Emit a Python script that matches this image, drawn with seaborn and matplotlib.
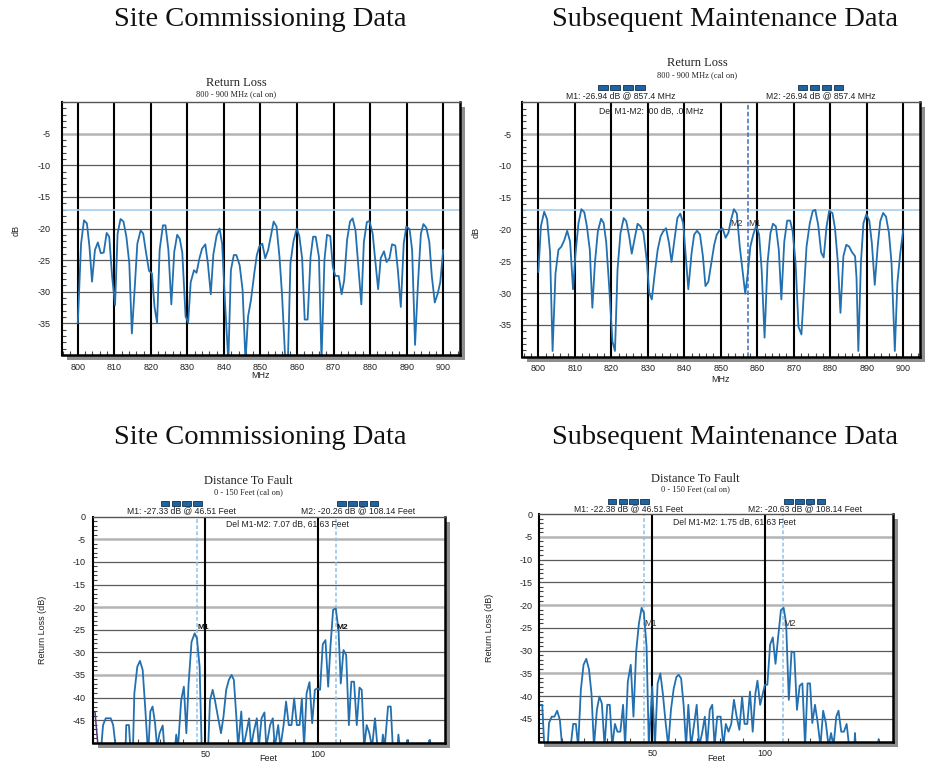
import numpy as np
import pandas as pd
import matplotlib
matplotlib.use("Agg")
import matplotlib.pyplot as plt
import seaborn as sns
from matplotlib.patches import Rectangle
from matplotlib.ticker import MultipleLocator

# ---------------- data ----------------
rl_freq_site = [
    800.0, 800.9, 801.7, 802.5, 803.2, 803.9, 804.7, 805.5, 806.3, 807.1,
    807.9, 808.6, 809.4, 810.2, 810.9, 811.7, 812.5, 813.3, 814.1, 814.8,
    815.6, 816.3, 817.2, 817.9, 818.7, 819.5, 820.3, 821.0, 821.7, 822.4,
    823.3, 824.0, 824.8, 825.6, 826.4, 827.2, 827.9, 828.6, 829.5, 830.2,
    830.9, 831.8, 832.5, 833.3, 834.0, 834.9, 835.6, 836.4, 837.1, 838.0,
    838.8, 839.5, 840.3, 841.2, 841.9, 842.7, 843.4, 844.3, 845.1, 845.9,
    846.6, 847.4, 848.3, 849.0, 849.7, 850.5, 851.3, 852.1, 852.8, 853.6,
    854.4, 855.2, 855.9, 856.8, 857.5, 858.2, 859.0, 859.9, 860.6, 861.4,
    862.1, 862.9, 863.7, 864.4, 865.1, 866.0, 866.7, 867.5, 868.2, 869.1,
    869.8, 870.5, 871.4, 872.2, 872.9, 873.7, 874.5, 875.2, 876.0, 876.7,
    877.6, 878.3, 879.1, 879.8, 880.7, 881.4, 882.2, 882.9, 883.8, 884.5,
    885.3, 886.0, 886.9, 887.6, 888.4, 889.2, 889.9, 890.8, 891.5, 892.3,
    893.1, 893.9, 894.6, 895.4, 896.2, 896.9, 897.7, 898.5, 899.2, 900.0]
rl_db_site = [
    -35.0, -22.4, -18.7, -19.2, -22.9, -28.4, -23.4, -22.2, -23.9, -23.8,
    -20.7, -21.3, -27.6, -32.1, -20.8, -18.5, -18.9, -21.3, -25.5, -36.6,
    -29.2, -22.4, -20.3, -20.8, -23.9, -26.7, -27.1, -32.4, -34.9, -23.4,
    -19.5, -19.5, -23.4, -32.0, -23.7, -21.0, -21.6, -23.8, -33.9, -34.9,
    -28.5, -26.6, -27.0, -24.7, -23.2, -22.5, -25.5, -30.4, -24.1, -21.1,
    -20.0, -22.4, -31.8, -41.0, -26.6, -24.2, -24.2, -25.8, -29.7, -41.0,
    -33.9, -31.3, -27.1, -24.2, -22.8, -22.4, -24.7, -23.4, -21.3, -18.9,
    -19.7, -24.5, -30.5, -41.0, -41.0, -25.5, -22.1, -20.0, -21.1, -24.7,
    -34.4, -34.4, -24.5, -21.3, -21.3, -24.5, -41.0, -25.0, -21.0, -21.2,
    -26.1, -27.5, -27.5, -30.4, -28.2, -21.8, -18.9, -18.4, -20.3, -25.5,
    -32.0, -22.1, -19.0, -18.8, -20.8, -25.0, -29.6, -24.7, -23.6, -25.3,
    -24.7, -22.5, -22.7, -26.6, -32.4, -22.4, -19.7, -20.1, -23.4, -38.4,
    -28.7, -20.8, -19.3, -19.9, -22.1, -27.6, -31.7, -30.3, -28.5, -23.4]

rl_freq_maint = [
    800.0, 800.7, 801.6, 802.4, 803.2, 803.9, 804.7, 805.5, 806.3, 807.1,
    807.9, 808.7, 809.5, 810.2, 811.0, 811.8, 812.6, 813.3, 814.1, 814.8,
    815.5, 816.3, 817.2, 817.9, 818.6, 819.4, 820.3, 821.0, 821.7, 822.5,
    823.4, 824.1, 824.9, 825.6, 826.5, 827.2, 828.0, 828.8, 829.7, 830.4,
    831.1, 831.9, 832.7, 833.5, 834.2, 835.0, 835.8, 836.5, 837.3, 838.1,
    838.9, 839.7, 840.4, 841.1, 842.0, 842.7, 843.5, 844.3, 845.1, 845.8,
    846.6, 847.4, 848.2, 848.9, 849.7, 850.5, 851.3, 852.1, 852.8, 853.6,
    854.4, 855.2, 855.9, 856.7, 857.4, 858.1, 858.9, 859.7, 860.5, 861.2,
    862.0, 862.8, 863.6, 864.3, 865.1, 865.9, 866.6, 867.4, 868.2, 869.0,
    869.7, 870.5, 871.3, 872.1, 872.8, 873.5, 874.4, 875.2, 875.9, 876.7,
    877.5, 878.2, 879.0, 879.7, 880.6, 881.3, 882.1, 882.8, 883.6, 884.4,
    885.2, 885.9, 886.8, 887.2, 887.7, 888.4, 889.1, 889.9, 890.7, 891.4,
    892.2, 893.0, 893.7, 894.5, 895.3, 896.1, 896.8, 897.7, 898.4, 899.2,
    900.0]
rl_db_maint = [
    -26.7, -19.5, -17.2, -18.4, -23.5, -39.1, -26.9, -23.2, -22.7, -21.7,
    -20.2, -21.9, -29.4, -23.7, -19.0, -16.8, -17.3, -19.5, -23.2, -32.3,
    -25.3, -20.3, -18.3, -19.0, -22.0, -28.9, -37.6, -39.1, -26.3, -20.6,
    -18.2, -18.7, -21.1, -23.8, -21.1, -19.1, -19.5, -20.5, -24.8, -30.0,
    -31.0, -26.9, -23.2, -21.1, -20.3, -19.8, -22.1, -25.1, -21.6, -18.2,
    -17.5, -19.0, -24.2, -29.4, -23.7, -20.8, -20.2, -20.8, -24.2, -28.9,
    -28.2, -25.3, -22.4, -20.8, -20.1, -19.8, -21.3, -20.5, -18.5, -16.8,
    -17.5, -22.7, -26.1, -30.1, -26.9, -22.7, -20.8, -19.4, -20.8, -26.3,
    -37.0, -25.3, -20.6, -19.1, -19.5, -23.2, -31.0, -21.9, -18.6, -18.6,
    -20.3, -25.3, -35.3, -36.5, -29.5, -22.7, -19.0, -17.1, -16.9, -19.3,
    -23.6, -24.4, -19.5, -17.1, -17.4, -19.8, -25.3, -33.1, -24.2, -22.4,
    -22.7, -23.5, -24.2, -27.6, -39.1, -25.3, -19.0, -17.6, -18.6, -22.1,
    -28.7, -22.7, -18.7, -17.4, -18.0, -20.6, -25.3, -39.1, -28.4, -23.7,
    -20.1]

dtf_ft_site = [
    3.8, 4.6, 5.8, 8.0, 9.1, 10.2, 14.6, 14.9, 16.1, 16.7,
    17.9, 18.5, 19.8, 21.0, 22.2, 23.4, 24.4, 24.8, 25.6, 26.6,
    27.7, 28.6, 29.7, 31.1, 31.8, 36.6, 37.1, 37.9, 39.3, 40.5,
    41.6, 42.6, 43.9, 45.3, 46.3, 47.5, 48.4, 51.3, 52.1, 53.3,
    54.3, 55.6, 57.0, 58.1, 59.3, 60.5, 61.7, 62.7, 63.8, 64.6,
    66.0, 66.9, 68.2, 69.5, 70.4, 71.4, 72.9, 73.8, 75.0, 76.3,
    77.1, 78.8, 80.0, 80.9, 82.4, 83.4, 84.8, 85.9, 87.1, 88.3,
    89.5, 90.7, 91.9, 92.9, 93.9, 95.0, 96.3, 97.5, 98.7, 99.6,
    101.0, 102.2, 103.4, 104.6, 105.6, 106.8, 108.0, 109.2, 110.2, 111.4,
    112.6, 113.8, 114.9, 116.1, 117.3, 118.5, 119.5, 120.6, 121.7, 122.9,
    124.1, 125.4, 126.5, 128.4, 128.9, 129.7, 131.2, 132.4, 133.3, 135.4,
    135.8, 136.4, 139.5, 139.8, 140.1, 149.3, 149.6, 149.9]
dtf_db_site = [
    -51.0, -46.1, -44.6, -44.6, -46.1, -51.0, -51.0, -46.1, -46.1, -51.0,
    -51.0, -39.1, -33.2, -31.9, -33.9, -42.8, -51.0, -51.0, -43.1, -42.0,
    -45.7, -51.0, -47.9, -46.2, -51.0, -51.0, -48.2, -51.0, -40.6, -37.6,
    -47.9, -36.9, -27.7, -25.8, -26.9, -33.2, -51.0, -51.0, -40.6, -38.3,
    -40.6, -44.2, -47.9, -44.2, -38.3, -36.1, -35.0, -36.1, -44.2, -51.0,
    -43.1, -51.0, -47.9, -44.6, -51.0, -47.9, -44.6, -51.0, -44.6, -43.3,
    -51.0, -46.1, -44.6, -51.0, -46.1, -51.0, -46.1, -40.9, -46.1, -46.1,
    -40.2, -46.1, -46.1, -40.2, -51.0, -39.1, -36.6, -45.7, -38.3, -38.0,
    -38.3, -28.2, -27.3, -37.6, -28.8, -20.6, -20.3, -25.1, -36.9, -29.5,
    -30.6, -46.1, -36.5, -36.5, -46.1, -37.8, -38.3, -51.0, -46.1, -47.9,
    -51.0, -44.6, -51.0, -51.0, -48.2, -51.0, -42.0, -42.0, -51.0, -51.0,
    -48.2, -51.0, -51.0, -49.4, -51.0, -51.0, -49.4, -51.0]
# short dark segments at the start of the site trace
dtf_ft_site_start = [1.0, 2.4]
dtf_db_site_start = [-43.1, -51.0]

dtf_ft_maint = [
    0.7, 1.3, 2.2, 3.7, 4.3, 5.5, 6.7, 7.9, 9.1, 10.1,
    13.9, 15.0, 16.2, 17.2, 18.4, 19.6, 20.8, 22.0, 23.1, 24.2,
    25.5, 26.6, 27.7, 28.9, 30.1, 31.2, 32.3, 33.5, 34.6, 35.9,
    37.1, 38.0, 39.2, 40.5, 41.7, 42.9, 44.1, 45.3, 46.3, 47.5,
    48.5, 50.0, 51.2, 52.4, 53.6, 54.7, 55.9, 57.1, 58.3, 59.5,
    60.7, 61.7, 62.8, 63.9, 65.0, 66.0, 67.2, 68.4, 69.7, 70.8,
    72.1, 73.3, 74.3, 75.5, 76.6, 77.6, 78.8, 80.3, 81.5, 82.6,
    83.8, 85.0, 86.2, 87.4, 88.6, 89.8, 90.9, 92.1, 93.3, 94.5,
    95.7, 96.6, 97.8, 99.0, 99.9, 101.0, 102.2, 103.4, 104.6, 105.8,
    107.0, 108.2, 109.3, 110.5, 111.7, 112.9, 114.1, 115.3, 116.5, 117.7,
    118.8, 119.9, 120.9, 122.1, 123.3, 124.5, 125.7, 126.9, 128.1, 129.2,
    130.3, 131.5, 132.5, 133.7, 134.9, 136.1, 137.2, 139.5, 139.8, 140.1,
    150.0, 150.3, 150.6]
dtf_db_maint = [
    -41.9, -41.9, -51.0, -51.0, -45.9, -44.5, -44.5, -43.2, -45.2, -51.0,
    -51.0, -46.1, -46.1, -51.0, -38.6, -33.1, -31.8, -34.1, -39.4, -51.0,
    -43.0, -40.1, -41.6, -51.0, -41.9, -41.9, -51.0, -46.1, -47.8, -47.8,
    -41.9, -51.0, -36.8, -33.1, -44.5, -30.2, -24.1, -20.6, -21.7, -29.1,
    -51.0, -37.9, -51.0, -37.2, -35.0, -39.4, -45.6, -51.0, -43.0, -38.4,
    -35.8, -35.3, -36.1, -41.9, -51.0, -41.9, -51.0, -46.7, -41.9, -51.0,
    -48.1, -44.5, -51.0, -43.0, -41.9, -51.0, -44.5, -44.5, -51.0, -46.1,
    -47.8, -46.1, -40.8, -44.5, -47.4, -40.1, -46.1, -46.1, -39.0, -47.8,
    -39.4, -36.6, -41.9, -39.4, -37.5, -37.5, -28.7, -27.1, -32.9, -26.9,
    -21.1, -20.6, -24.0, -40.8, -30.2, -30.4, -43.0, -37.7, -37.2, -51.0,
    -37.2, -37.2, -45.9, -41.9, -45.9, -51.0, -43.2, -45.9, -51.0, -48.1,
    -51.0, -44.5, -43.2, -47.8, -47.8, -46.1, -51.0, -51.0, -48.1, -51.0,
    -51.0, -49.5, -51.0]

rl_xticks = [800, 810, 820, 830, 840, 850, 860, 870, 880, 890, 900]
rl_yticks = [-5, -10, -15, -20, -25, -30, -35]
dtf_xticks = [50, 100]
dtf_yticks = [0, -5, -10, -15, -20, -25, -30, -35, -40, -45]
rl_limit = -17
rl_marker = 857.4
dtf_markers = [46.51, 108.14]

panel_titles = ["Site Commissioning Data", "Subsequent Maintenance Data"]
rl_texts = ["M1: -26.94 dB @ 857.4 MHz", "M2: -26.94 dB @ 857.4 MHz",
            "Del M1-M2: .00 dB, .0 MHz"]
dtf_site_texts = ["M1: -27.33 dB @ 46.51 Feet", "M2: -20.26 dB @ 108.14 Feet",
                  "Del M1-M2: 7.07 dB, 61.63 Feet"]
dtf_maint_texts = ["M1: -22.38 dB @ 46.51 Feet", "M2: -20.63 dB @ 108.14 Feet",
                   "Del M1-M2: 1.75 dB, 61.63 Feet"]

# ---------------- style ----------------
sns.set_style("white")
plt.rcParams["font.family"] = ["Liberation Sans", "DejaVu Sans"]
plt.rcParams["axes.unicode_minus"] = False
SERIF = ["Liberation Serif", "DejaVu Serif"]
BLUE = "#2270b0"
TXT = "#222222"

W, H = 932, 764
fig = plt.figure(figsize=(W / 100, H / 100), dpi=100)
fig.patch.set_facecolor("white")


def fx(px):
    return px / W


def fy(py):
    return 1 - py / H


def rect(l, t, r, b):
    return [l / W, 1 - b / H, (r - l) / W, (b - t) / H]


def shadow(l, t, r, b, dx, dy):
    fig.add_artist(Rectangle((fx(l + dx), fy(b + dy)), (r - l) / W, (b - t) / H,
                             transform=fig.transFigure, facecolor="#8e8e8e",
                             edgecolor="none", zorder=-1))


def blocks(x0, x1, yc):
    gap = 2.4
    w = (x1 - x0 - 3 * gap) / 4
    for i in range(4):
        l = x0 + i * (w + gap)
        fig.add_artist(Rectangle((fx(l), fy(yc + 2.3)), w / W, 4.6 / H,
                                 transform=fig.transFigure, facecolor="#1e64a0",
                                 edgecolor="#10304f", lw=0.6, zorder=5))


def style_axes(ax, xlim, ylim, xticks, yticks, xminor, ypad, light=()):
    ax.set_xlim(*xlim)
    ax.set_ylim(*ylim)
    ax.set_xticks(xticks)
    ax.set_yticks(yticks)
    ax.xaxis.set_minor_locator(MultipleLocator(xminor))
    ax.yaxis.set_minor_locator(MultipleLocator(1))
    ax.tick_params(which="major", length=0, labelsize=6.5, labelcolor=TXT)
    ax.tick_params(axis="y", which="major", pad=ypad)
    ax.tick_params(axis="x", which="major", pad=5.5)
    ax.tick_params(which="minor", direction="in", length=3.2, width=0.8,
                   color="#444444", bottom=True, left=True)
    ax.set_xlabel("")
    ax.set_ylabel("")
    for y in yticks:
        if y in light:
            ax.axhline(y, color="#b4b4b4", lw=1.8, zorder=1)
        elif y != 0:
            ax.axhline(y, color="#5a5a5a", lw=0.9, zorder=1)
    for x in xticks:
        ax.axvline(x, color="black", lw=1.5, zorder=1.2)
    ax.spines["left"].set_color("black")
    ax.spines["left"].set_linewidth(1.5)
    ax.spines["top"].set_color("#555555")
    ax.spines["top"].set_linewidth(1.0)
    ax.spines["right"].set_color("black")
    ax.spines["right"].set_linewidth(1.8)
    ax.spines["bottom"].set_color("black")
    ax.spines["bottom"].set_linewidth(1.8)
    for s in ax.spines.values():
        s.set_zorder(4)


# ---------------- axes ----------------
boxes = {
    "tl": (61.7, 102, 460, 355),
    "tr": (522.3, 102.3, 920, 356.7),
    "bl": (92.7, 516.7, 445, 742.7),
    "br": (539.3, 514, 892.7, 741.7),
}
axes = {}
for k, b in boxes.items():
    shadow(*b, 5, 5)
    axes[k] = fig.add_axes(rect(*b))

# Return loss panels
for key, fr, db in [("tl", rl_freq_site, rl_db_site), ("tr", rl_freq_maint, rl_db_maint)]:
    ax = axes[key]
    df = pd.DataFrame({"MHz": fr, "dB": db})
    sns.lineplot(data=df, x="MHz", y="dB", ax=ax, color=BLUE, lw=1.3,
                 estimator=None, sort=False, legend=False, zorder=3)
    ax.axhline(rl_limit, color="#a9cde9", lw=1.2, zorder=1.5)
    style_axes(ax, (795.6, 904.6), (-40, 0), rl_xticks, rl_yticks, 2, 8.0, light=(-5,))

axes["tr"].axvline(rl_marker, color="#3c6cc0", lw=1.1, ls=(0, (3, 1.5)), zorder=2)
axes["tr"].text(rl_marker - 1.4, -19.1, "M2", fontsize=6.5, color="#333333",
                ha="right", va="center", zorder=5)
axes["tr"].text(rl_marker + 0.2, -19.1, "M1", fontsize=6.5, color="#333333",
                ha="left", va="center", zorder=5)

# Distance to fault panels
for key, ft, db in [("bl", dtf_ft_site, dtf_db_site), ("br", dtf_ft_maint, dtf_db_maint)]:
    ax = axes[key]
    df = pd.DataFrame({"Feet": ft, "dB": db})
    sns.lineplot(data=df, x="Feet", y="dB", ax=ax, color=BLUE, lw=1.3,
                 estimator=None, sort=False, legend=False, zorder=3)
    for m in dtf_markers:
        ax.axvline(m, color="#8ec1ea", lw=1.1, ls=(0, (2.5, 1.5)), zorder=2)
    style_axes(ax, (0, 156.5), (-50, 0), dtf_xticks, dtf_yticks, 10, 5.0,
               light=(-5, -20, -35))

axes["bl"].plot(dtf_ft_site_start, dtf_db_site_start, color="#4b3c78", lw=1.1, zorder=3.5)
for m, lab in zip(dtf_markers, ["M1", "M2"]):
    axes["bl"].text(m, -24.6, lab, fontsize=6, fontweight="bold", color="#111111",
                    ha="left", va="center", zorder=5)
    axes["br"].text(m, -24.1, lab, fontsize=6.5, color="#333333",
                    ha="left", va="center", zorder=5)

# ---------------- figure texts ----------------
for cx, cy, t in [(260, 20, panel_titles[0]), (725, 20, panel_titles[1]),
                  (260, 438, panel_titles[0]), (725, 438, panel_titles[1])]:
    fig.text(fx(cx), fy(cy), t, family=SERIF, fontsize=20.5, color="#111111",
             ha="center", va="center")

for cx, ty, sy, t, s in [(236, 83, 94, "Return Loss", "800 - 900 MHz (cal on)"),
                         (697, 63, 75, "Return Loss", "800 - 900 MHz (cal on)"),
                         (248, 481.5, 492.3, "Distance To Fault", "0 - 150 Feet (cal on)"),
                         (695, 479, 489.3, "Distance To Fault", "0 - 150 Feet (cal on)")]:
    fig.text(fx(cx), fy(ty), t, family=SERIF, fontsize=9, color=TXT, ha="center", va="center")
    fig.text(fx(cx), fy(sy), s, family=SERIF, fontsize=6, color=TXT, ha="center", va="center")

# axis labels
fig.text(fx(16), fy(230), "dB", fontsize=6.5, color=TXT, rotation=90, ha="center", va="center")
fig.text(fx(476), fy(232), "dB", fontsize=6.5, color=TXT, rotation=90, ha="center", va="center")
fig.text(fx(260.5), fy(376), "MHz", fontsize=6.5, color=TXT, ha="center", va="center")
fig.text(fx(721), fy(380), "MHz", fontsize=6.5, color=TXT, ha="center", va="center")
fig.text(fx(42.5), fy(630), "Return Loss (dB)", fontsize=6.5, color=TXT, rotation=90,
         ha="center", va="center")
fig.text(fx(489.5), fy(628), "Return Loss (dB)", fontsize=6.5, color=TXT, rotation=90,
         ha="center", va="center")
fig.text(fx(268), fy(758.5), "Feet", fontsize=6.5, color=TXT, ha="center", va="center")
fig.text(fx(716), fy(758.5), "Feet", fontsize=6.5, color=TXT, ha="center", va="center")

# marker read-outs
for (m1x, m2x, my, dx_, dy_, b1, b2, by, texts) in [
        (621, 821, 96, 599, 111.7, (598, 645), (797.7, 843.3), 87.7, rl_texts),
        (181.3, 357.8, 511, 225.7, 524.7, (160.7, 201.7), (337.3, 378.3), 503.7, dtf_site_texts),
        (628.3, 804.8, 508.3, 672.7, 522.3, (607.7, 648.7), (784.3, 825.3), 501.3, dtf_maint_texts)]:
    fig.text(fx(m1x), fy(my), texts[0], fontsize=6.2, color=TXT, ha="center", va="center", zorder=6)
    fig.text(fx(m2x), fy(my), texts[1], fontsize=6.2, color=TXT, ha="center", va="center", zorder=6)
    fig.text(fx(dx_), fy(dy_), texts[2], fontsize=6.2, color=TXT, ha="left", va="center", zorder=6)
    blocks(b1[0], b1[1], by)
    blocks(b2[0], b2[1], by)

fig.savefig("out.png", dpi=100, facecolor="white")
